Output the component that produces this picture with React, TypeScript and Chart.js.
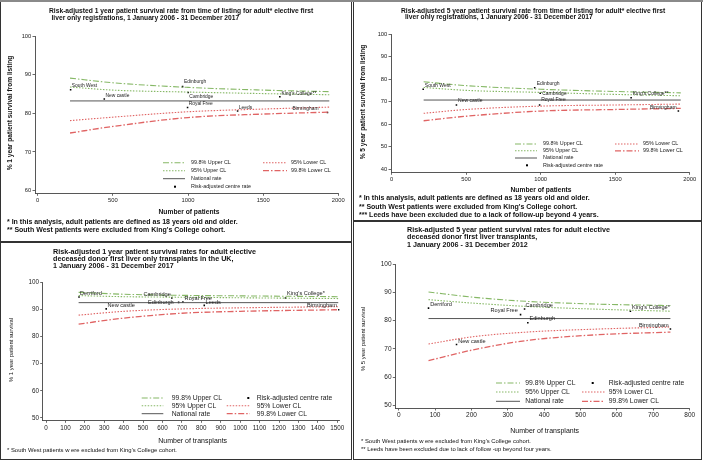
import React, { useEffect, useRef } from "react";
import { Chart, registerables } from "chart.js";

Chart.register(...registerables);

const FONT = '"Liberation Sans", Arial, Helvetica, sans-serif';
const GREEN = "#86b866";
const RED = "#e06464";
const GRAY = "#555555";

// ---------- Panel A: 1 year survival from listing ----------
const aCentres = ["South West", "New castle", "Edinburgh", "Cambridge", "Royal Free", "Leeds", "King's College**", "Birmingham"];
const aCentreN = [219, 443, 964, 1001, 997, 1330, 1611, 1928];
const aCentreRate = [86.1, 83.7, 86.9, 85.4, 81.5, 80.6, 84.3, 80.2];
const aLimitN = [215, 500, 1000, 1500, 1940];
const aUpper998 = [89.1, 87.9, 86.7, 86.0, 85.6];
const aUpper95 = [86.8, 86.0, 85.5, 85.1, 84.8];
const aLower95 = [78.1, 79.0, 80.4, 81.1, 81.6];
const aLower998 = [74.9, 76.6, 78.9, 79.8, 80.3];
const aNational = 83.2;
const aXTicks = [0, 500, 1000, 1500, 2000];
const aYTicks = [60, 70, 80, 90, 100];

// ---------- Panel B: 5 year survival from listing ----------
const bCentres = ["South West", "New castle", "Edinburgh", "Cambridge", "Royal Free", "King's College**", "Birmingham"];
const bCentreN = [212, 435, 960, 997, 993, 1607, 1924];
const bCentreRate = [75.6, 68.6, 76.3, 73.8, 68.6, 71.8, 65.9];
const bLimitN = [215, 500, 1000, 1500, 1940];
const bUpper998 = [78.9, 77.2, 75.6, 74.6, 74.0];
const bUpper95 = [76.4, 75.1, 74.2, 73.3, 72.7];
const bLower95 = [64.9, 66.6, 68.1, 68.6, 69.0];
const bLower998 = [61.6, 63.6, 65.9, 66.6, 67.1];
const bNational = 70.8;
const bXTicks = [0, 500, 1000, 1500, 2000];
const bYTicks = [40, 50, 60, 70, 80, 90, 100];

// ---------- Panel C: 1 year survival after transplant ----------
const cCentres = ["Derriford", "New castle", "Cambridge", "Edinburgh", "Royal Free", "Leeds", "King's College*", "Birmingham"];
const cCentreN = [170, 310, 648, 683, 705, 815, 1233, 1508];
const cCentreRate = [94.6, 90.2, 94.2, 92.6, 92.7, 91.5, 94.2, 89.9];
const cLimitN = [168, 400, 700, 1000, 1505];
const cUpper998 = [96.3, 95.6, 95.2, 95.0, 94.7];
const cUpper95 = [95.1, 94.7, 94.5, 94.3, 94.0];
const cLower95 = [87.9, 89.3, 90.2, 90.6, 91.0];
const cLower998 = [84.6, 86.8, 88.6, 89.3, 89.9];
const cNational = 92.5;
const cXTicks = [0, 100, 200, 300, 400, 500, 600, 700, 800, 900, 1000, 1100, 1200, 1300, 1400, 1500];
const cYTicks = [50, 60, 70, 80, 90, 100];

// ---------- Panel D: 5 year survival after transplant ----------
const dCentres = ["Derriford", "New castle", "Royal Free", "Cambridge", "Edinburgh", "King's College*", "Birmingham"];
const dCentreN = [82, 159, 335, 346, 355, 637, 747];
const dCentreRate = [84.4, 71.5, 82.1, 84.1, 79.2, 83.3, 77.0];
const dLimitN = [82, 200, 350, 550, 747];
const dUpper998 = [90.1, 88.3, 86.8, 85.8, 85.3];
const dUpper95 = [87.4, 86.2, 85.0, 84.0, 83.3];
const dLower95 = [71.7, 74.2, 75.9, 77.0, 77.7];
const dLower998 = [65.8, 69.5, 72.9, 75.0, 75.9];
const dNational = 80.7;
const dXTicks = [0, 100, 200, 300, 400, 500, 600, 700, 800];
const dYTicks = [50, 60, 70, 80, 90, 100];

const LEG_998U = "99.8% Upper CL";
const LEG_95U = "95% Upper CL";
const LEG_95L = "95% Lower CL";
const LEG_998L = "99.8% Lower CL";
const LEG_NAT = "National rate";
const LEG_DOT = "Risk-adjusted centre rate";

type Kind = "u998" | "u95" | "l95" | "l998" | "nat" | "dot";
const STYLE: Record<string, { color: string; dash: number[]; width: number }> = {
  u998: { color: GREEN, dash: [6, 2, 1.5, 2], width: 1.1 },
  u95: { color: GREEN, dash: [1.5, 1.5], width: 1.1 },
  l95: { color: RED, dash: [1.5, 1.5], width: 1.1 },
  l998: { color: RED, dash: [6, 2, 1.5, 2], width: 1.3 },
  nat: { color: GRAY, dash: [], width: 1 },
};

type Place = { dx: number; dy: number; align: CanvasTextAlign };
type LegItem = { label: string; kind: Kind; col: number; row: number };

interface PanelCfg {
  box: { left: number; top: number; width: number; height: number };
  area: { left: number; top: number; right: number; bottom: number };
  xMin: number; xMax: number; yMin: number; yMax: number;
  xTicks: number[]; yTicks: number[];
  tickSize: number; labelSize: number;
  centres: string[]; centreN: number[]; centreRate: number[]; place: Place[];
  limitN: number[]; u998: number[]; u95: number[]; l95: number[]; l998: number[]; national: number;
  legend: { rows: number[]; cols: { s0: number; s1: number; t: number }[]; dotX: number; size: number; items: LegItem[] };
}

const R = (dx: number, dy: number): Place => ({ dx, dy, align: "left" });
const L = (dx: number, dy: number): Place => ({ dx, dy, align: "right" });

const legendTop: LegItem[] = [
  { label: LEG_998U, kind: "u998", col: 0, row: 0 },
  { label: LEG_95L, kind: "l95", col: 1, row: 0 },
  { label: LEG_95U, kind: "u95", col: 0, row: 1 },
  { label: LEG_998L, kind: "l998", col: 1, row: 1 },
  { label: LEG_NAT, kind: "nat", col: 0, row: 2 },
  { label: LEG_DOT, kind: "dot", col: 0, row: 3 },
];
const legendBottom: LegItem[] = [
  { label: LEG_998U, kind: "u998", col: 0, row: 0 },
  { label: LEG_DOT, kind: "dot", col: 1, row: 0 },
  { label: LEG_95U, kind: "u95", col: 0, row: 1 },
  { label: LEG_95L, kind: "l95", col: 1, row: 1 },
  { label: LEG_NAT, kind: "nat", col: 0, row: 2 },
  { label: LEG_998L, kind: "l998", col: 1, row: 2 },
];

const PANELS: PanelCfg[] = [
  {
    box: { left: 0, top: 0, width: 352, height: 242 },
    area: { left: 35, top: 36, right: 338.3, bottom: 193.3 },
    xMin: -18, xMax: 2000, yMin: 59.3, yMax: 100, xTicks: aXTicks, yTicks: aYTicks,
    tickSize: 5.8, labelSize: 4.9,
    centres: aCentres, centreN: aCentreN, centreRate: aCentreRate,
    place: [R(1.2, -4), R(1.2, -3.8), R(1.4, -4.6), R(1.2, 4.6), R(1.2, -4), R(1.2, -3.4), R(1.6, -3.4), L(-9, -4.3)],
    limitN: aLimitN, u998: aUpper998, u95: aUpper95, l95: aLower95, l998: aLower998, national: aNational,
    legend: { rows: [162.7, 170.7, 178.7, 186.7], cols: [{ s0: 163, s1: 185, t: 191 }, { s0: 263, s1: 287, t: 291 }], dotX: 175, size: 5.4, items: legendTop },
  },
  {
    box: { left: 353, top: 0, width: 349, height: 221 },
    area: { left: 38, top: 34.3, right: 336.7, bottom: 172.3 },
    xMin: -4, xMax: 2000, yMin: 38.7, yMax: 100, xTicks: bXTicks, yTicks: bYTicks,
    tickSize: 5.8, labelSize: 5,
    centres: bCentres, centreN: bCentreN, centreRate: bCentreRate,
    place: [R(1.6, -4), R(1.6, -4.3), R(2, -4), R(2, 0), R(1.6, -5), R(1.6, -3.7), L(-1.8, -3.7)],
    limitN: bLimitN, u998: bUpper998, u95: bUpper95, l95: bLower95, l998: bLower998, national: bNational,
    legend: { rows: [144, 150.8, 158, 165.3], cols: [{ s0: 162, s1: 184, t: 190 }, { s0: 262, s1: 286, t: 290 }], dotX: 174, size: 5.4, items: legendTop },
  },
  {
    box: { left: 0, top: 242, width: 352, height: 218 },
    area: { left: 42.7, top: 40.3, right: 339.6, bottom: 178.3 },
    xMin: -17, xMax: 1512, yMin: 49.15, yMax: 100, xTicks: cXTicks, yTicks: cYTicks,
    tickSize: 6.3, labelSize: 5.6,
    centres: cCentres, centreN: cCentreN, centreRate: cCentreRate,
    place: [R(1, -4), R(1.3, -3.7), L(-1, -4), L(-5, 0), R(1.7, -4), R(1.3, -3.3), R(1.7, -4.3), L(-2, -4)],
    limitN: cLimitN, u998: cUpper998, u95: cUpper95, l95: cLower95, l998: cLower998, national: cNational,
    legend: { rows: [156, 163.7, 171.7], cols: [{ s0: 141.7, s1: 163.3, t: 171.7 }, { s0: 226.7, s1: 250, t: 256.7 }], dotX: 248.3, size: 6.8, items: legendBottom },
  },
  {
    box: { left: 353, top: 221, width: 349, height: 239 },
    area: { left: 42.3, top: 43, right: 336.7, bottom: 187 },
    xMin: -9.3, xMax: 800, yMin: 49.06, yMax: 100, xTicks: dXTicks, yTicks: dYTicks,
    tickSize: 6.5, labelSize: 5.6,
    centres: dCentres, centreN: dCentreN, centreRate: dCentreRate,
    place: [R(1.7, -3.7), R(1.7, -3.3), L(-2.7, -4), R(1, -3.3), R(1.7, -4.7), R(1.7, -4), L(-1.7, -3.7)],
    limitN: dLimitN, u998: dUpper998, u95: dUpper95, l95: dLower95, l998: dLower998, national: dNational,
    legend: { rows: [162, 171, 180.3], cols: [{ s0: 143, s1: 167, t: 172.3 }, { s0: 229, s1: 252, t: 255.7 }], dotX: 239.7, size: 6.8, items: legendBottom },
  },
];

type TextItem = { x: number; y: number; s: string; size: number; bold?: boolean; mid?: boolean; rot?: boolean };

const TEXTS: TextItem[] = [
  // Panel A
  { x: 49, y: 10.7, s: "Risk-adjusted 1 year patient survival rate from time of listing for adult* elective first", size: 6.7, bold: true },
  { x: 51.5, y: 18.3, s: "liver only registrations, 1 January 2006 - 31 December 2017", size: 6.7, bold: true },
  { x: 189, y: 212, s: "Number of patients", size: 6.7, bold: true, mid: true },
  { x: 10, y: 113, s: "% 1 year patient survival from listing", size: 6.6, bold: true, mid: true, rot: true },
  { x: 7, y: 221.7, s: "* In this analysis, adult patients are defined as 18 years old and older.", size: 7, bold: true },
  { x: 7, y: 230, s: "** South West patients were excluded from King's College cohort.", size: 7, bold: true },
  // Panel B
  { x: 401, y: 10.7, s: "Risk-adjusted 5 year patient survival rate from time of listing for adult* elective first", size: 6.7, bold: true },
  { x: 405, y: 17.4, s: "liver only registrations, 1 January 2006 - 31 December 2017", size: 6.7, bold: true },
  { x: 541, y: 190, s: "Number of patients", size: 6.7, bold: true, mid: true },
  { x: 363, y: 102, s: "% 5 year patient survival from listing", size: 6.6, bold: true, mid: true, rot: true },
  { x: 359, y: 198, s: "* In this analysis, adult patients are defined as 18 years old and older.", size: 7, bold: true },
  { x: 359, y: 206.7, s: "** South West patients were excluded from King's College cohort.", size: 7, bold: true },
  { x: 359, y: 215, s: "*** Leeds have been excluded due to a lack of follow-up beyond 4 years.", size: 7, bold: true },
  // Panel C
  { x: 53, y: 252, s: "Risk-adjusted 1 year patient survival rates for adult elective", size: 7.2, bold: true },
  { x: 53, y: 259.4, s: "deceased donor first liver only transplants in the UK,", size: 7.2, bold: true },
  { x: 53, y: 266.4, s: "1 January 2006 - 31 December 2017", size: 7.2, bold: true },
  { x: 192.7, y: 441.3, s: "Number of transplants", size: 7, mid: true },
  { x: 11.7, y: 349.7, s: "% 1 year patient survival", size: 5.9, mid: true, rot: true },
  { x: 7, y: 450.7, s: "* South West patients w ere excluded from King's College cohort.", size: 5.9 },
  // Panel D
  { x: 407, y: 230, s: "Risk-adjusted 5 year patient survival rates for adult elective", size: 7.2, bold: true },
  { x: 407, y: 237.6, s: "deceased donor first liver transplants,", size: 7.2, bold: true },
  { x: 407, y: 245.2, s: "1 January 2006 - 31 December 2012", size: 7.2, bold: true },
  { x: 544.7, y: 430.7, s: "Number of transplants", size: 7, mid: true },
  { x: 363.7, y: 339, s: "% 5 year patient survival", size: 5.9, mid: true, rot: true },
  { x: 361, y: 441.3, s: "* South West patients w ere excluded from King's College cohort.", size: 5.9 },
  { x: 361, y: 449.7, s: "** Leeds have been excluded due to lack of follow -up beyond four years.", size: 5.9 },
];

function PanelChart({ cfg }: { cfg: PanelCfg }) {
  const ref = useRef<HTMLCanvasElement | null>(null);
  useEffect(() => {
    const c = cfg;
    const line = (kind: Kind, label: string, ys: number[]) => ({
      label,
      data: c.limitN.map((n, i) => ({ x: n, y: ys[i] })),
      borderColor: STYLE[kind].color,
      borderDash: STYLE[kind].dash,
      borderWidth: STYLE[kind].width,
      pointRadius: 0,
      fill: false,
      cubicInterpolationMode: "monotone" as const,
    });
    const natLine = {
      label: LEG_NAT,
      data: [
        { x: c.limitN[0], y: c.national },
        { x: c.limitN[c.limitN.length - 1], y: c.national },
      ],
      borderColor: STYLE.nat.color,
      borderWidth: STYLE.nat.width,
      pointRadius: 0,
      fill: false,
    };
    const dots = {
      label: LEG_DOT,
      data: c.centreN.map((n, i) => ({ x: n, y: c.centreRate[i] })),
      showLine: false,
      pointStyle: "rect" as const,
      pointRadius: 1.1,
      pointBackgroundColor: "#000",
      pointBorderWidth: 0,
      borderColor: "#000",
    };
    const overlay = {
      id: "overlay" + c.box.left + "_" + c.box.top,
      afterDatasetsDraw(chart: any) {
        const ctx: CanvasRenderingContext2D = chart.ctx;
        const xs = chart.scales.x;
        const ys = chart.scales.y;
        ctx.save();
        ctx.fillStyle = "#222";
        ctx.textBaseline = "middle";
        ctx.font = `${c.labelSize}px ${FONT}`;
        c.centres.forEach((name, i) => {
          const px = xs.getPixelForValue(c.centreN[i]);
          const py = ys.getPixelForValue(c.centreRate[i]);
          const p = c.place[i];
          ctx.textAlign = p.align;
          ctx.fillText(name, px + p.dx, py + p.dy);
        });
        // legend
        const lg = c.legend;
        ctx.font = `${lg.size}px ${FONT}`;
        ctx.textAlign = "left";
        lg.items.forEach((it) => {
          const y = lg.rows[it.row];
          const col = lg.cols[it.col];
          if (it.kind === "dot") {
            ctx.fillStyle = "#000";
            ctx.fillRect(lg.dotX - 1, y - 1, 2, 2);
          } else {
            const st = STYLE[it.kind];
            ctx.save();
            ctx.strokeStyle = st.color;
            ctx.lineWidth = st.width;
            ctx.setLineDash(st.dash);
            ctx.beginPath();
            ctx.moveTo(col.s0, y);
            ctx.lineTo(col.s1, y);
            ctx.stroke();
            ctx.restore();
          }
          ctx.fillStyle = "#222";
          ctx.fillText(it.label, col.t, y);
        });
        ctx.restore();
      },
    };
    const axisCommon = (size: number) => ({
      grid: { display: true, drawOnChartArea: false, drawTicks: true, tickLength: 2.5, color: "#444", lineWidth: 0.8 },
      border: { display: true, color: "#444", width: 0.9 },
      ticks: { font: { family: FONT, size }, color: "#222", padding: 1.2, autoSkip: false, maxRotation: 0, minRotation: 0, callback: (v: any) => String(v) },
    });
    const chart = new Chart(ref.current as HTMLCanvasElement, {
      type: "line",
      data: {
        datasets: [
          line("u998", LEG_998U, c.u998),
          line("u95", LEG_95U, c.u95),
          line("l95", LEG_95L, c.l95),
          line("l998", LEG_998L, c.l998),
          natLine,
          dots,
        ] as any,
      },
      options: {
        animation: false,
        responsive: true,
        maintainAspectRatio: false,
        events: [],
        layout: { padding: { left: 0, top: c.area.top, right: c.box.width - c.area.right, bottom: 0 } },
        plugins: { legend: { display: false }, tooltip: { enabled: false }, title: { display: false } },
        scales: {
          x: {
            type: "linear",
            min: c.xMin,
            max: c.xMax,
            afterBuildTicks: (ax: any) => {
              ax.ticks = c.xTicks.map((v) => ({ value: v }));
            },
            afterFit: (ax: any) => {
              ax.height = c.box.height - c.area.bottom;
            },
            ...axisCommon(c.tickSize),
          },
          y: {
            type: "linear",
            min: c.yMin,
            max: c.yMax,
            afterBuildTicks: (ax: any) => {
              ax.ticks = c.yTicks.map((v) => ({ value: v }));
            },
            afterFit: (ax: any) => {
              ax.width = c.area.left;
            },
            ...axisCommon(c.tickSize),
          },
        },
      } as any,
      plugins: [overlay],
    });
    return () => chart.destroy();
  }, [cfg]);
  const b = cfg.box;
  return (
    <>
      <div style={{ position: "absolute", left: b.left, top: b.top, width: b.width, height: b.height }}>
        <canvas ref={ref} />
      </div>
      <div
        style={{
          position: "absolute",
          left: b.left,
          top: b.top,
          width: b.width,
          height: b.height,
          boxSizing: "border-box",
          border: "1.5px solid #333",
          pointerEvents: "none",
        }}
      />
    </>
  );
}

function Txt({ t }: { t: TextItem }) {
  const lh = t.size * 1.2;
  const style: React.CSSProperties = {
    position: "absolute",
    left: t.x,
    top: t.rot ? t.y : t.y - lh / 2,
    fontSize: t.size,
    lineHeight: lh + "px",
    fontWeight: t.bold ? 700 : 400,
    whiteSpace: "nowrap",
    color: "#111",
    fontFamily: FONT,
  };
  if (t.rot) style.transform = "translate(-50%, -50%) rotate(-90deg)";
  else if (t.mid) style.transform = "translateX(-50%)";
  return <div style={style}>{t.s}</div>;
}

export default function App() {
  return (
    <div style={{ position: "absolute", left: 0, top: 0, width: 703, height: 461, background: "#fff", overflow: "hidden", fontFamily: FONT }}>
      {PANELS.map((p, i) => (
        <PanelChart key={i} cfg={p} />
      ))}
      {TEXTS.map((t, i) => (
        <Txt key={i} t={t} />
      ))}
      <div style={{ position: "absolute", left: 0, top: 0, width: 703, height: 2, background: "#8a8a8a" }} />
    </div>
  );
}
